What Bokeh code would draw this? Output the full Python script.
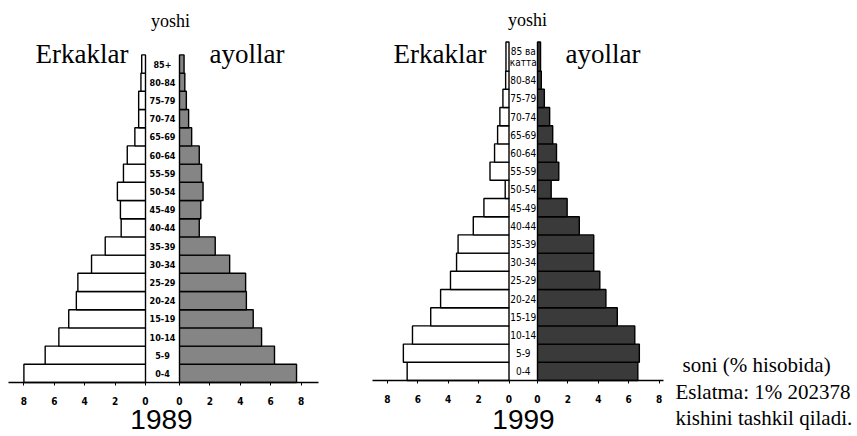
from bokeh.plotting import figure
from bokeh.models import Range1d, LinearAxis, FixedTicker, CustomJSTickFormatter, ColumnDataSource
from bokeh.core.properties import value
from bokeh.embed import file_html
from bokeh.resources import INLINE

# ---------------- data ----------------
age_groups = ["0-4", "5-9", "10-14", "15-19", "20-24", "25-29", "30-34", "35-39", "40-44",
              "45-49", "50-54", "55-59", "60-64", "65-69", "70-74", "75-79", "80-84", "85+"]
age_labels_1989 = age_groups[:-1] + ["85+"]
age_labels_1999 = age_groups[:-1] + ["85 ва\nкатта"]

men_1989 = [8.0, 6.6, 5.7, 5.05, 4.55, 4.45, 3.55, 2.65, 1.6, 1.65, 1.85, 1.45, 1.2, 0.7, 0.45, 0.45, 0.3, 0.25]
women_1989 = [7.7, 6.25, 5.4, 4.85, 4.4, 4.35, 3.3, 2.35, 1.3, 1.4, 1.55, 1.45, 1.3, 0.8, 0.6, 0.45, 0.35, 0.3]
men_1999 = [6.7, 6.95, 6.35, 5.15, 4.5, 3.85, 3.45, 3.35, 2.35, 1.65, 0.25, 1.25, 0.95, 0.75, 0.6, 0.4, 0.22, 0.2]
women_1999 = [6.6, 6.7, 6.4, 5.25, 4.5, 4.1, 3.7, 3.7, 2.75, 1.95, 0.9, 1.4, 1.25, 1.0, 0.8, 0.45, 0.25, 0.2]

tick_values = [0, 2, 4, 6, 8]
years = ["1989", "1999"]
title_age = "yoshi"
title_men = "Erkaklar"
title_women = "ayollar"
note_unit = "soni (% hisobida)"
note_lines = ["Eslatma: 1% 202378", "kishini tashkil qiladi."]

# ---------------- layout (pixel geometry) ----------------
W, H = 857, 436
PX_X = 15.2   # pixels per percent
PX_Y = 18.2   # pixels per age row


def dx(page_x):
    return page_x / PX_X


def dy(page_y):
    return (H - page_y) / PX_Y


p = figure(width=W, height=H, x_range=Range1d(0, W / PX_X), y_range=Range1d(0, H / PX_Y),
           output_backend="svg", toolbar_location=None,
           x_axis_location=None, y_axis_location=None,
           min_border=0, outline_line_color=None, background_fill_color="white")
p.grid.visible = False

serif = value("Liberation Serif")
cond = value("DejaVu Sans Condensed")

charts = [
    dict(men=men_1989, women=women_1989, labels=age_labels_1989, year=years[0],
         mz=dx(145), fz=dx(179), base=dy(382), top_h=1.0, wfill="#858585",
         axis=(dx(8), dx(318)), lab_style="bold", lab_size="9px",
         yoshi=(dx(170), dy(20)), erk=dx(35), ayo=dx(209), year_x=dx(161)),
    dict(men=men_1999, women=women_1999, labels=age_labels_1999, year=years[1],
         mz=dx(508.5), fz=dx(537), base=dy(380), top_h=1.6, wfill="#3a3a3a",
         axis=(dx(372), dx(663)), lab_style="normal", lab_size="10px",
         yoshi=(dx(527), dy(19)), erk=dx(393), ayo=dx(565), year_x=dx(523)),
]

for c in charts:
    n = len(age_groups)
    heights = [1.0] * (n - 1) + [c["top_h"]]
    bottoms, tops = [], []
    acc = c["base"]
    for h in heights:
        bottoms.append(acc)
        tops.append(acc + h)
        acc += h
    mids = [(b + t) / 2 for b, t in zip(bottoms, tops)]
    src = ColumnDataSource(dict(
        age=age_groups, label=c["labels"], men=c["men"], women=c["women"],
        m_left=[c["mz"] - v for v in c["men"]], m_right=[c["mz"]] * n,
        w_left=[c["fz"]] * n, w_right=[c["fz"] + v for v in c["women"]],
        bottom=bottoms, top=tops, mid=mids, cx=[(c["mz"] + c["fz"]) / 2] * n,
    ))
    p.quad(left="m_left", right="m_right", bottom="bottom", top="top", source=src,
           fill_color="white", line_color="black", line_width=1.4)
    p.quad(left="w_left", right="w_right", bottom="bottom", top="top", source=src,
           fill_color=c["wfill"], line_color="black", line_width=1.4)
    p.text(x="cx", y="mid", text="label", source=src, text_font=cond,
           text_font_style=c["lab_style"], text_font_size=c["lab_size"],
           text_align="center", text_baseline="middle", text_color="black",
           text_line_height=1.0)

    ticks = [c["mz"] - t for t in tick_values] + [c["fz"] + t for t in tick_values]
    fmt = CustomJSTickFormatter(args=dict(m=c["mz"], f=c["fz"]), code="""
        const v = tick < (m + f) / 2 ? m - tick : tick - f;
        return String(Math.round(v));
    """)
    ax = LinearAxis(ticker=FixedTicker(ticks=ticks), formatter=fmt,
                    fixed_location=c["base"], bounds=c["axis"])
    ax.axis_line_color = "black"
    ax.axis_line_width = 1.5
    ax.major_tick_line_color = "black"
    ax.major_tick_in = 0
    ax.major_tick_out = 3
    ax.minor_tick_line_color = None
    ax.major_label_standoff = 11
    ax.major_label_text_font = "DejaVu Sans Condensed"
    ax.major_label_text_font_style = "bold"
    ax.major_label_text_font_size = "10px"
    ax.major_label_text_color = "black"
    p.add_layout(ax, "below")

    # titles (vertical centres)
    p.text(x=[c["yoshi"][0]], y=[c["yoshi"][1]], text=[title_age], text_font=serif,
           text_font_size="18px", text_align="center", text_baseline="middle")
    p.text(x=[c["erk"]], y=[dy(53)], text=[title_men], text_font=serif,
           text_font_size="27px", text_align="left", text_baseline="middle")
    p.text(x=[c["ayo"]], y=[dy(53)], text=[title_women], text_font=serif,
           text_font_size="27px", text_align="left", text_baseline="middle")
    p.text(x=[c["year_x"]], y=[dy(419)], text=[c["year"]], text_font=value("Liberation Sans"),
           text_font_size="28px", text_align="center", text_baseline="middle")

# notes
p.text(x=[dx(682)], y=[dy(364)], text=[note_unit], text_font=serif,
       text_font_size="21px", text_align="left", text_baseline="middle")
p.text(x=[dx(675), dx(675)], y=[dy(391), dy(417)], text=note_lines, text_font=serif,
       text_font_size="21px", text_align="left", text_baseline="middle")

open("out.html", "w").write(file_html(p, INLINE))
